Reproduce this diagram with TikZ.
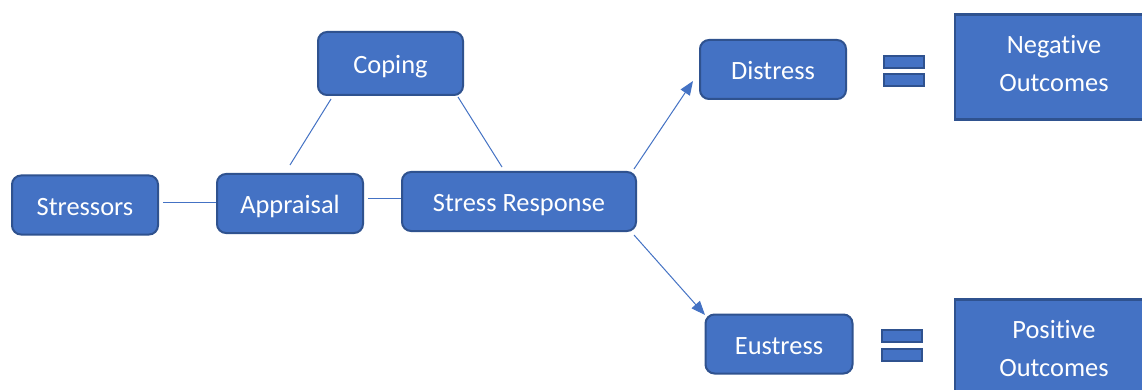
\documentclass[tikz,border=0pt]{standalone}
\usepackage{fontspec}
\setmainfont{Carlito}[Ligatures=NoCommon]
\usetikzlibrary{calc,arrows.meta}
\definecolor{myblue}{HTML}{4472C4}
\definecolor{myborder}{HTML}{2F528F}
\begin{document}
\begin{tikzpicture}[x=1pt,y=-1pt,
  box/.style={rectangle,rounded corners=9pt,fill=myblue,draw=myborder,line width=2pt,
    text=white,font=\fontsize{26.4}{38}\selectfont,inner sep=0pt,minimum height=59pt,
    text height=26pt,text depth=6pt},
  outbox/.style={rectangle,fill=myblue,draw=myborder,line width=2.5pt,
    text=white,font=\fontsize{26.4}{38}\selectfont,align=center,inner sep=0pt,
    minimum width=198pt,minimum height=105pt,text depth=7.5pt},
  eqbar/.style={rectangle,fill=myblue,draw=myborder,line width=2pt,inner sep=0pt,
    minimum width=40pt,minimum height=12pt},
  link/.style={draw=myblue,line width=1pt},
  arr/.style={draw=myblue,line width=1pt,-{Triangle[length=14pt,width=11pt]}}]
\useasboundingbox (0,0) rectangle (1142,390);
\clip (0,0) rectangle (1142,390);
\fill[white] (0,0) rectangle (1142,390);
\node[box,minimum width=146pt] (stressors) at (85,205) {Stressors};
\node[box,minimum width=146pt] (appraisal) at (290,203.5) {Appraisal};
\node[box,minimum width=234pt] (sr) at (519,201.5) {Stress Response};
\node[box,minimum width=145pt,minimum height=63pt] (coping) at (390.5,63.5) {Coping};
\node[box,minimum width=146pt] (distress) at (773,69.5) {Distress};
\node[box,minimum width=147pt] (eustress) at (779,344) {Eustress};
\node[outbox] (neg) at (1054,67) {Negative\\Outcomes};
\node[outbox] (pos) at (1054,352) {Positive\\Outcomes};
\node[eqbar] (eqa1) at (903.5,62) {};
\node[eqbar] (eqa2) at (903.5,80.5) {};
\node[eqbar] (eqb1) at (901.5,336) {};
\node[eqbar] (eqb2) at (901.5,354.5) {};
\draw[link] ($(stressors.east)+(4,-3)$) -- ($(appraisal.west)+(0,-1.5)$);
\draw[link] ($(appraisal.east)+(4,-5.5)$) -- ($(sr.west)+(0,-3.5)$);
\draw[link] ($(coping.south west)+(14,3)$) -- ($(appraisal.north)+(0,-8)$);
\draw[link] ($(coping.south east)+(-6,1)$) -- ($(sr.north)+(-17,-4)$);
\draw[arr] ($(sr.north east)+(-3,-2)$) -- ($(distress.south west)+(-6,-19)$);
\draw[arr] ($(sr.south east)+(-3,3)$) -- ($(eustress.north west)+(0.5,1.5)$);
\end{tikzpicture}
\end{document}
